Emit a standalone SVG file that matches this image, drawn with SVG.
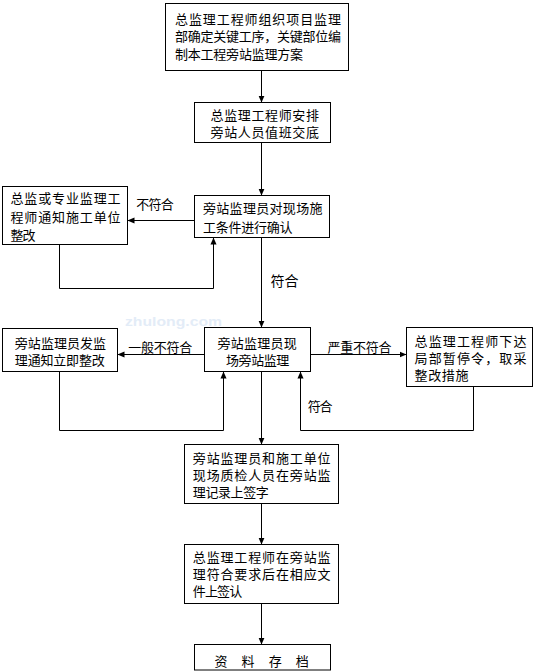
<svg xmlns="http://www.w3.org/2000/svg" width="534" height="672" viewBox="0 0 534 672">
<style>
.box{fill:#fff;stroke:#000;stroke-width:1}
.t{font-family:"Liberation Sans","Noto Sans CJK SC",sans-serif;font-size:13px;fill:#000}
.c{fill:none;stroke:#000;stroke-width:1;marker-end:url(#arr)}
.wm{font-family:"Liberation Sans",Arial,sans-serif;font-size:13px;font-weight:bold;fill:#e3ecf7}
</style>
<defs>
<marker id="arr" viewBox="0 0 8 8" refX="8" refY="4" markerWidth="7" markerHeight="7" markerUnits="userSpaceOnUse" orient="auto"><path d="M0,0.5 L8,4 L0,7.5 z" fill="#000"/></marker>
</defs>
<rect width="534" height="672" fill="#fff"/>
<text class="wm" x="125" y="326" textLength="97" lengthAdjust="spacingAndGlyphs">zhulong.com</text>
<g id="connectors">
<path class="c" d="M261.5 70.5 V102.5"/>
<path class="c" d="M261.5 142.5 V195.5"/>
<path class="c" d="M194.5 220.5 H127.5"/>
<path class="c" d="M59.5 244.5 V288.5 H213.5 V237.5"/>
<path class="c" d="M261.5 237.5 V327.5"/>
<path class="c" d="M204.5 354.5 H117.5"/>
<path class="c" d="M310.5 354.5 H406.5"/>
<path class="c" d="M59.5 371.5 V430.5 H223.5 V371.5"/>
<path class="c" d="M473.5 386.5 V430.5 H300.5 V371.5"/>
<path class="c" d="M261.5 371.5 V444.5"/>
<path class="c" d="M261.5 503.5 V544.5"/>
<path class="c" d="M261.5 603.5 V644.5"/>
<text class="t" x="136.2" y="209" textLength="37.6" lengthAdjust="spacing">不符合</text>
<text class="t" x="270.5" y="286" style="font-size:14px">符合</text>
<text class="t" x="128.2" y="351.5" textLength="64" lengthAdjust="spacing">一般不符合</text>
<text class="t" x="327.5" y="351.5" textLength="64" lengthAdjust="spacing">严重不符合</text>
<text class="t" x="307.7" y="410.5" textLength="24.8" lengthAdjust="spacing">符合</text>
</g>
<g id="n1">
<rect class="box" x="165.5" y="3.5" width="183" height="67"/>
<text class="t"><tspan x="175" y="24" textLength="166" lengthAdjust="spacing">总监理工程师组织项目监理</tspan><tspan x="175" y="41" textLength="166" lengthAdjust="spacing">部确定关键工序，关键部位编</tspan><tspan x="175" y="58.5" textLength="128" lengthAdjust="spacing">制本工程旁站监理方案</tspan></text>
</g>
<g id="n2">
<rect class="box" x="194.5" y="102.5" width="136" height="40"/>
<text class="t"><tspan x="210.5" y="120" textLength="108.5" lengthAdjust="spacing">总监理工程师安排</tspan><tspan x="210.5" y="137" textLength="108.5" lengthAdjust="spacing">旁站人员值班交底</tspan></text>
</g>
<g id="n3">
<rect class="box" x="194.5" y="195.5" width="135" height="42"/>
<text class="t"><tspan x="203" y="213" textLength="119.5" lengthAdjust="spacing">旁站监理员对现场施</tspan><tspan x="203" y="231.5" textLength="89.5" lengthAdjust="spacing">工条件进行确认</tspan></text>
</g>
<g id="n3l">
<rect class="box" x="2.5" y="186.5" width="125" height="58"/>
<text class="t"><tspan x="10.5" y="203" textLength="110" lengthAdjust="spacing">总监或专业监理工</tspan><tspan x="10.5" y="222" textLength="110" lengthAdjust="spacing">程师通知施工单位</tspan><tspan x="10.5" y="239.5" textLength="25" lengthAdjust="spacing">整改</tspan></text>
</g>
<g id="n4">
<rect class="box" x="204.5" y="327.5" width="106" height="44"/>
<text class="t"><tspan x="217.5" y="347.5" textLength="79.3" lengthAdjust="spacing">旁站监理员现</tspan><tspan x="226" y="364.5" textLength="63.3" lengthAdjust="spacing">场旁站监理</tspan></text>
</g>
<g id="n4l">
<rect class="box" x="2.5" y="328.5" width="115" height="43"/>
<text class="t"><tspan x="14.8" y="347.5" textLength="91.3" lengthAdjust="spacing">旁站监理员发监</tspan><tspan x="14.8" y="364.5" textLength="90" lengthAdjust="spacing">理通知立即整改</tspan></text>
</g>
<g id="n4r">
<rect class="box" x="406.5" y="327.5" width="126" height="59"/>
<text class="t"><tspan x="414.5" y="346" textLength="112" lengthAdjust="spacing">总监理工程师下达</tspan><tspan x="414.5" y="363" textLength="112" lengthAdjust="spacing">局部暂停令，取采</tspan><tspan x="414.5" y="380" textLength="54" lengthAdjust="spacing">整改措施</tspan></text>
</g>
<g id="n5">
<rect class="box" x="184.5" y="444.5" width="154" height="59"/>
<text class="t"><tspan x="192.8" y="462.5" textLength="137.7" lengthAdjust="spacing">旁站监理员和施工单位</tspan><tspan x="192.8" y="479.5" textLength="137.7" lengthAdjust="spacing">现场质检人员在旁站监</tspan><tspan x="192.8" y="496.5" textLength="76" lengthAdjust="spacing">理记录上签字</tspan></text>
</g>
<g id="n6">
<rect class="box" x="184.5" y="544.5" width="154" height="59"/>
<text class="t"><tspan x="192.8" y="561.5" textLength="137.7" lengthAdjust="spacing">总监理工程师在旁站监</tspan><tspan x="192.8" y="578.5" textLength="137.7" lengthAdjust="spacing">理符合要求后在相应文</tspan><tspan x="192.8" y="595.5" textLength="49.4" lengthAdjust="spacing">件上签认</tspan></text>
</g>
<g id="n7">
<rect class="box" x="194.5" y="644.5" width="136" height="25.5"/>
<text class="t" x="214.5" y="666" textLength="94.3" lengthAdjust="spacing">资 料 存 档</text>
</g>
</svg>
